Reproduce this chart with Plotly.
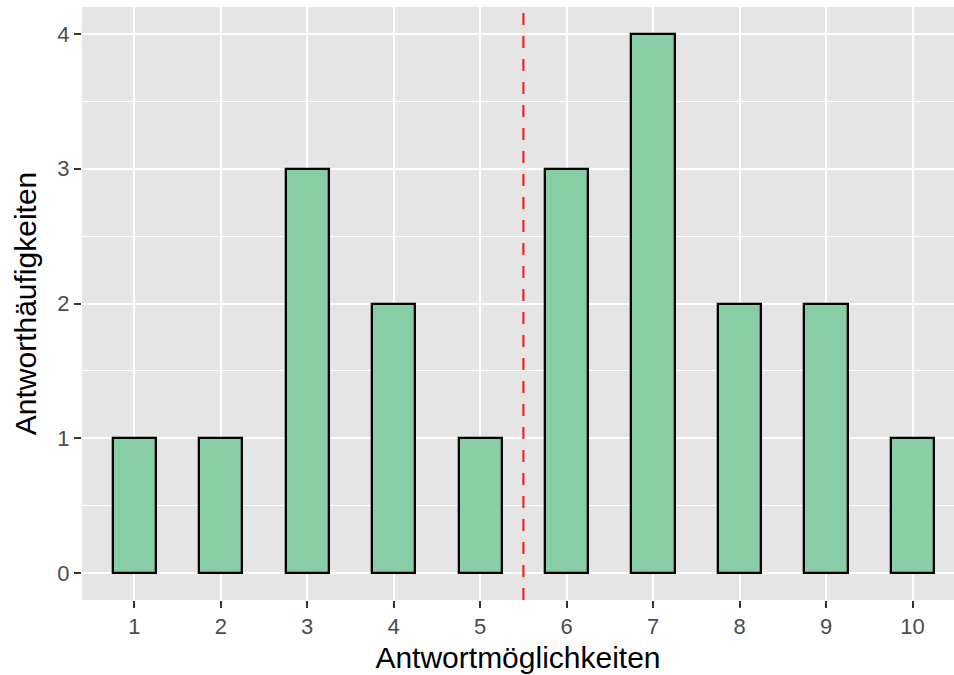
import plotly.graph_objects as go

categories = [1, 2, 3, 4, 5, 6, 7, 8, 9, 10]
counts = [1, 1, 3, 2, 1, 3, 4, 2, 2, 1]
y_ticks = [0, 1, 2, 3, 4]
cut_line = 5.5

fig = go.Figure()
fig.add_trace(go.Bar(
    x=categories, y=counts, width=0.5,
    marker=dict(color="#88CDA5", line=dict(color="black", width=2.3)),
    showlegend=False,
))

fig.add_shape(type="line", xref="x", yref="paper", x0=cut_line, x1=cut_line, y0=0, y1=1,
              line=dict(color="#F4262C", width=2.2, dash="12px,11px"))

font_family = "Liberation Sans, Arial, Helvetica, sans-serif"
fig.update_layout(
    width=954, height=675,
    margin=dict(l=82, r=0, t=7, b=75),
    paper_bgcolor="white", plot_bgcolor="#E5E5E5",
    font=dict(family=font_family, color="#4D4D4D", size=22),
    bargap=0,
)
fig.update_xaxes(
    range=[0.395, 10.48], tickmode="array", tickvals=categories,
    ticktext=[str(c) for c in categories],
    showgrid=True, gridcolor="white", gridwidth=2,
    ticks="outside", ticklen=7, tickwidth=2, tickcolor="#333333",
    tickfont=dict(size=22, color="#4D4D4D"),
    zeroline=False, showline=False,
    title=dict(text="Antwortmöglichkeiten", font=dict(size=30, color="black"), standoff=8),
)
fig.update_yaxes(
    range=[-0.2, 4.2], tickmode="array", tickvals=y_ticks,
    showgrid=True, gridcolor="white", gridwidth=2,
    minor=dict(tickvals=[0.5, 1.5, 2.5, 3.5], showgrid=True, gridcolor="white", gridwidth=1, ticks=""),
    ticks="outside", ticklen=7, tickwidth=2, tickcolor="#333333",
    tickfont=dict(size=22, color="#4D4D4D"),
    zeroline=False, showline=False,
    title=dict(text="Antworthäufigkeiten", font=dict(size=30, color="black"), standoff=11),
)

fig.write_html(
    "out.html",
    config={"displayModeBar": False},
    post_script="document.body.style.margin='0';document.body.style.overflow='hidden';",
)
